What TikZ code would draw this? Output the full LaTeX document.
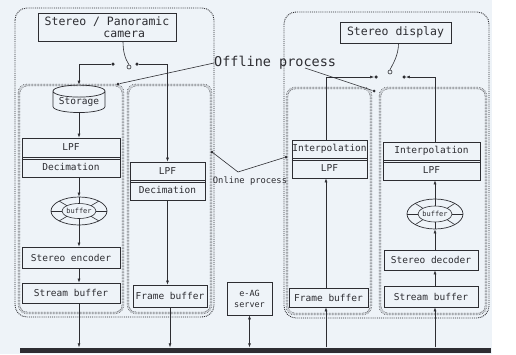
\documentclass[tikz,border=0pt]{standalone}
\usepackage{fontspec}
\newfontfamily\monof{DejaVu Sans Mono}
\usetikzlibrary{shapes.geometric,arrows.meta,calc}
\definecolor{bg}{RGB}{238,243,248}
\definecolor{ink}{RGB}{45,45,50}
\tikzset{
  lab/.style={font=\monof\fontsize{9.5}{11}\selectfont, text=ink},
  box/.style={draw=ink, line width=0.7pt, inner sep=0pt, lab},
  outerbox/.style={draw=ink, densely dotted, line width=0.9pt, rounded corners=12pt},
  innerbox/.style={draw=ink, densely dotted, line width=0.5pt, double=bg, double distance=1.4pt, rounded corners=8pt},
  wire/.style={draw=ink, line width=0.6pt},
  arr/.style={wire, -{Latex[length=4pt,width=3pt]}},
  dotnode/.style={circle, fill=ink, inner sep=0pt, minimum size=3.5pt},
  pivot/.style={circle, draw=ink, fill=bg, line width=0.6pt, inner sep=0pt, minimum size=4pt},
  ringnode/.style={ellipse, draw=ink, line width=0.7pt, minimum width=56pt, minimum height=28pt, inner sep=0pt, font=\monof\fontsize{7}{8}\selectfont, text=ink},
}
\begin{document}
\begin{tikzpicture}[x=1pt,y=-1pt]
\fill[white] (0,0) rectangle (516,354);
\fill[bg] (0,0) rectangle (492,354);
\useasboundingbox (0,0) rectangle (516,354);

% containers
\draw[outerbox] (15,8) rectangle (214,317);
\draw[outerbox] (284,12) rectangle (489,318);
\draw[innerbox] (19,85) rectangle (123,313);
\draw[innerbox] (128,85) rectangle (211,313);
\draw[innerbox] (287,88) rectangle (371,314);
\draw[innerbox] (380,88) rectangle (486,314);

% columns
\coordinate (colA) at (79,0);
\coordinate (colRA) at (326,0);
\coordinate (colRB) at (435,0);

% top boxes
\node[box, minimum width=138pt, minimum height=28pt, align=center, font=\monof\fontsize{11.5}{12}\selectfont] (cam) at (107,27) {Stereo / Panoramic\\\hspace*{3em}camera};
\node[box, minimum width=111pt, minimum height=21pt, font=\monof\fontsize{11.5}{12}\selectfont] (disp) at (395.5,32.5) {Stereo display};

% switches
\node[pivot] (pivL) at (129,67) {};
\node[dotnode] (swL1) at (113,64) {};
\node[dotnode] (swL2) at (137,64) {};
\draw[wire] ([xshift=16pt]cam.south) .. controls +(0,10) and +(-4,-6) .. (pivL.north);
\node[pivot] (pivR) at (390,72) {};
\node[dotnode] (swR1) at (376,77) {};
\node[dotnode] (swR2) at (404,77) {};
\draw[wire] ([xshift=3pt]disp.south) .. controls +(0,12) and +(3,-6) .. (pivR.north);

% left column A
\node[box, cylinder, shape border rotate=90, aspect=0.3, minimum width=52pt, minimum height=24pt] (stor) at (79,102) {Storage};
\node[box, minimum width=98pt, minimum height=19pt] (lpfA) at (71,147.5) {LPF};
\node[box, minimum width=98pt, minimum height=20pt] (decA) at (71,167) {Decimation};
\draw[wire] ([yshift=-2pt]lpfA.south west) -- ([yshift=-2pt]lpfA.south east);
\node[ringnode] (ringA) at (79,211) {buffer};
\node[box, minimum width=98pt, minimum height=21pt] (encA) at (71,257.5) {Stereo encoder};
\node[box, minimum width=98pt, minimum height=20pt] (sbufA) at (71,293) {Stream buffer};

% left column B
\node[box, minimum width=75pt, minimum height=18pt] (lpfB) at (167.5,171) {LPF};
\node[box, minimum width=75pt, minimum height=20pt] (decB) at (167.5,190) {Decimation};
\draw[wire] ([yshift=-2pt]lpfB.south west) -- ([yshift=-2pt]lpfB.south east);
\node[box, minimum width=74pt, minimum height=22pt] (fbufB) at (170,296) {Frame buffer};

% right column A
\node[box, minimum width=75pt, minimum height=18pt] (intA) at (329.5,149) {Interpolation};
\node[box, minimum width=75pt, minimum height=20pt] (lpfRA) at (329.5,168) {LPF};
\draw[wire] ([yshift=-2pt]intA.south west) -- ([yshift=-2pt]intA.south east);
\node[box, minimum width=79pt, minimum height=19pt] (fbufRA) at (328.5,297.5) {Frame buffer};

% right column B
\node[box, minimum width=97pt, minimum height=18pt] (intB) at (431.5,151) {Interpolation};
\node[box, minimum width=97pt, minimum height=20pt] (lpfRB) at (431.5,170) {LPF};
\draw[wire] ([yshift=-2pt]intB.south west) -- ([yshift=-2pt]intB.south east);
\node[ringnode, minimum height=30pt] (ringB) at (435,214) {buffer};
\node[box, minimum width=94pt, minimum height=20pt] (decoder) at (431,260) {Stereo decoder};
\node[box, minimum width=94pt, minimum height=21pt] (sbufRB) at (431,296.5) {Stream buffer};

% ring details
\foreach \r/\iy/\oy in {ringA/7.5/14, ringB/8/15}{
  \draw[wire] (\r.center) ellipse [x radius=17pt, y radius=\iy pt];
  \foreach \a in {0,45,...,315}
    \draw[wire] ($(\r.center)+(\a:17pt and \iy pt)$) -- ($(\r.center)+(\a:28pt and \oy pt)$);
}

% server and bus
\node[box, minimum width=45pt, minimum height=33pt, align=center, font=\monof\fontsize{8.5}{11}\selectfont] (srv) at (249.5,298.5) {e-AG\\server};
\node[fill=ink, minimum width=471pt, minimum height=5pt, inner sep=0pt] (bus) at (255.5,350) {};

% connectors left
\draw[arr] (swL1) -| (stor.north);
\draw[arr] (stor.south) -- (stor.south |- lpfA.north);
\draw[arr] (colA |- decA.south) -- (ringA.north);
\draw[arr] (ringA.south) -- (colA |- encA.north);
\draw[arr] (colA |- encA.south) -- (colA |- sbufA.north);
\draw[arr] (colA |- sbufA.south) -- (colA |- bus.north);
\draw[arr] (swL2) -| (lpfB.north);
\draw[arr] (decB.south) -- (decB.south |- fbufB.north);
\draw[arr] (fbufB.south) -- (fbufB.south |- bus.north);
\draw[wire, {Latex[length=4pt,width=3pt]}-{Latex[length=4pt,width=3pt]}] (srv.south) -- (srv.south |- bus.north);

% connectors right
\draw[arr] (colRA |- bus.north) -- (colRA |- fbufRA.south);
\draw[arr] (colRA |- fbufRA.north) -- (colRA |- lpfRA.south);
\draw[arr] (colRA |- intA.north) |- (swR1);
\draw[arr] (colRB |- bus.north) -- (colRB |- sbufRB.south);
\draw[arr] (colRB |- sbufRB.north) -- (colRB |- decoder.south);
\draw[arr] (colRB |- decoder.north) -- (ringB.south);
\draw[arr] (ringB.north) -- (colRB |- lpfRB.south);
\draw[arr] (colRB |- intB.north) |- (swR2);

% offline / online
\node[font=\monof\fontsize{13.5}{14}\selectfont, text=ink, inner sep=0pt, anchor=west] (offl) at (214,63) {Offline process};
\node[dotnode, minimum size=3pt] (offL) at (118,84) {};
\node[dotnode, minimum size=3pt] (offR) at (374,91) {};
\coordinate (offRs) at (305,68);
\draw[wire] (offl.west) -- (offL);
\draw[wire] (offRs) -- (offR);

\node[dotnode, minimum size=3pt] (onL) at (212,152) {};
\node[dotnode, minimum size=3pt] (onR) at (286,157) {};
\coordinate (onV) at (238,172);
\draw[wire] (onL) -- (onV) -- (onR);
\node[lab, font=\monof\fontsize{8.8}{10}\selectfont, inner sep=0pt] (onl) at (250,181) {Online process};
\end{tikzpicture}
\end{document}
